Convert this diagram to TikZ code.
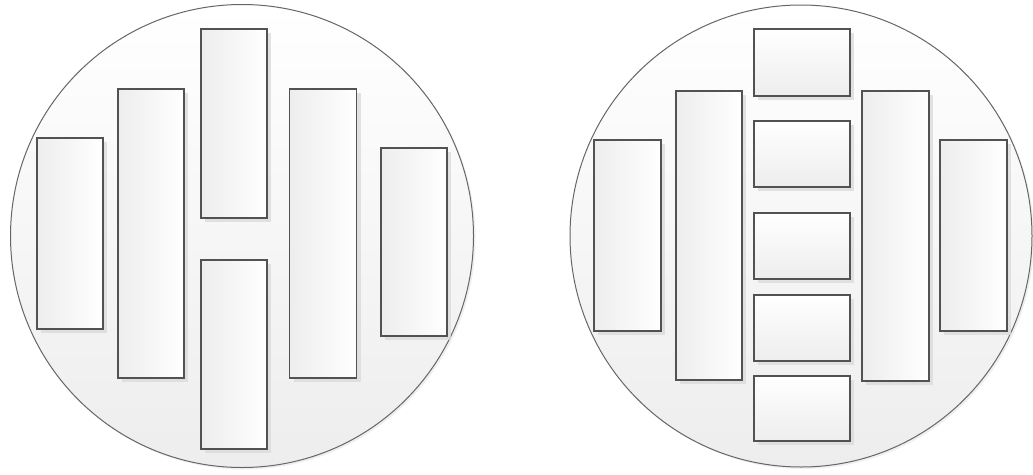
\documentclass[tikz,border=0pt]{standalone}
\usetikzlibrary{shadows}
\begin{document}
\begin{tikzpicture}[x=1pt,y=-1pt,
  disc/.style={circle, draw=black!60, line width=1pt, top color=white, bottom color=black!7, inner sep=0pt, minimum size=#1,
    drop shadow={shadow xshift=2pt, shadow yshift=-2pt, fill=black!10, opacity=0.6}},
  tallbox/.style={rectangle, draw=black!68, line width=1.4pt, left color=black!7, right color=white, inner sep=0pt,
    drop shadow={shadow xshift=4pt, shadow yshift=-4pt, fill=black!14, opacity=0.8}},
  widebox/.style={rectangle, draw=black!68, line width=1.4pt, top color=white, bottom color=black!7, inner sep=0pt,
    drop shadow={shadow xshift=4pt, shadow yshift=-4pt, fill=black!14, opacity=0.8}},
]
\useasboundingbox (0,0) rectangle (1033,474);
% left disc
\node[disc=463pt] (L) at (242,236) {};
\node[tallbox, minimum width=66pt, minimum height=191pt] (l1) at (70,233.5) {};
\node[tallbox, minimum width=66pt, minimum height=289pt] (l2) at (151,233.5) {};
\node[tallbox, minimum width=66pt, minimum height=189pt] (l3) at (234,123.5) {};
\node[tallbox, minimum width=66pt, minimum height=189pt] (l4) at (234,354.5) {};
\node[tallbox, minimum width=67pt, minimum height=289pt] (l5) at (323,233.5) {};
\node[tallbox, minimum width=66pt, minimum height=188pt] (l6) at (414,242) {};
% right disc
\node[disc=462pt] (R) at (801,236) {};
\node[tallbox, minimum width=67pt, minimum height=191pt] (r1) at (627.5,235.5) {};
\node[tallbox, minimum width=66pt, minimum height=289pt] (r2) at (709,235.5) {};
\node[widebox, minimum width=96pt, minimum height=67pt] (c1) at (802,62.5) {};
\node[widebox, minimum width=96pt, minimum height=66pt] (c2) at (802,154) {};
\node[widebox, minimum width=96pt, minimum height=66pt] (c3) at (802,246) {};
\node[widebox, minimum width=96pt, minimum height=66pt] (c4) at (802,328) {};
\node[widebox, minimum width=96pt, minimum height=65pt] (c5) at (802,408.5) {};
\node[tallbox, minimum width=67pt, minimum height=290pt] (r3) at (895.5,236) {};
\node[tallbox, minimum width=67pt, minimum height=191pt] (r4) at (973.5,235.5) {};
\end{tikzpicture}
\end{document}
